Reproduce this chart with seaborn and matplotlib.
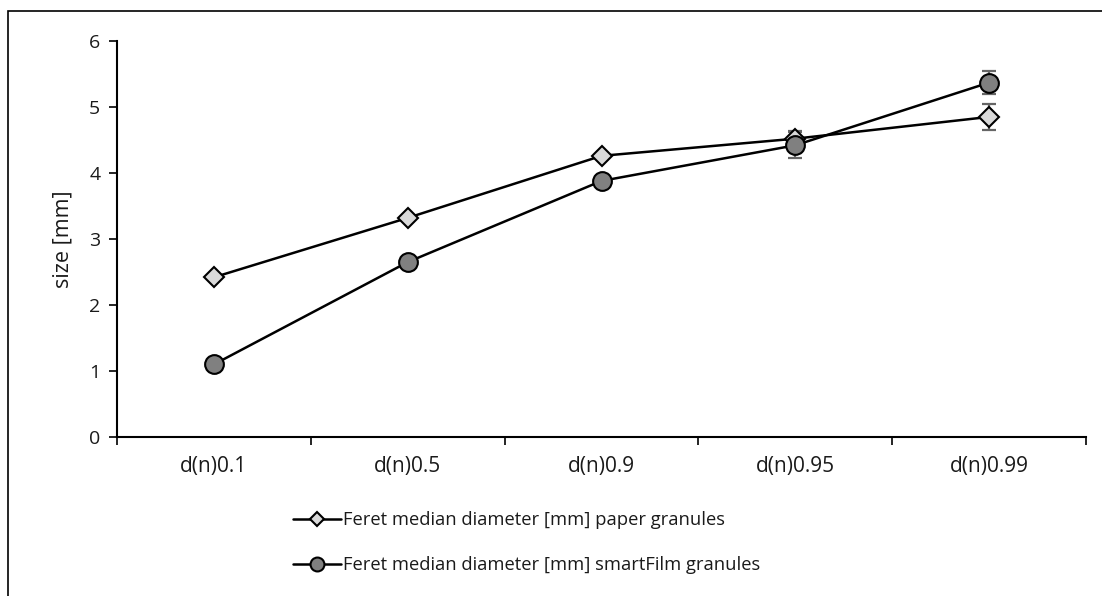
import matplotlib
matplotlib.use("Agg")
import matplotlib.pyplot as plt
from matplotlib.patches import Rectangle
from matplotlib.ticker import FixedLocator, NullFormatter
import seaborn as sns
import numpy as np
import pandas as pd

categories = ["d(n)0.1", "d(n)0.5", "d(n)0.9", "d(n)0.95", "d(n)0.99"]
paper_values = [2.42, 3.32, 4.26, 4.52, 4.85]
paper_err = [0.03, 0.04, 0.05, 0.12, 0.20]
smart_values = [1.10, 2.65, 3.88, 4.42, 5.37]
smart_err = [0.04, 0.05, 0.06, 0.20, 0.18]
paper_label = "Feret median diameter [mm] paper granules"
smart_label = "Feret median diameter [mm] smartFilm granules"
y_ticks = [0, 1, 2, 3, 4, 5, 6]

sns.set_theme(style="white")
plt.rcParams["font.family"] = ["Open Sans", "DejaVu Sans"]
TEXT = "#1a1a1a"

fig = plt.figure(figsize=(11.02, 5.96), dpi=100)
ax = fig.add_axes([0.1062, 0.2668, 0.9855 - 0.1062, 0.9312 - 0.2668])

pos = np.arange(len(categories))
df = pd.DataFrame({"pos": np.concatenate([pos, pos]),
                   "value": paper_values + smart_values,
                   "series": [paper_label] * len(pos) + [smart_label] * len(pos)})

# error bars sit behind the markers
ax.errorbar(pos, paper_values, yerr=paper_err, fmt="none", ecolor="#666666",
            elinewidth=1.6, capsize=5, capthick=1.6, zorder=1)
ax.errorbar(pos, smart_values, yerr=smart_err, fmt="none", ecolor="#666666",
            elinewidth=1.6, capsize=5, capthick=1.6, zorder=1)

sns.lineplot(data=df[df.series == paper_label], x="pos", y="value", ax=ax,
             color="black", linewidth=1.8, marker="D", markersize=10,
             markerfacecolor="#d9d9d9", markeredgecolor="black",
             markeredgewidth=1.5, label=paper_label, zorder=3)
sns.lineplot(data=df[df.series == smart_label], x="pos", y="value", ax=ax,
             color="black", linewidth=1.8, marker="o", markersize=13.5,
             markerfacecolor="#808080", markeredgecolor="black",
             markeredgewidth=1.5, label=smart_label, zorder=3)

ax.set_xlim(-0.5, len(categories) - 0.5)
ax.set_ylim(0, 6)
ax.set_yticks(y_ticks)
ax.set_xticks(pos)
ax.set_xticklabels(categories)
ax.xaxis.set_minor_locator(FixedLocator(np.arange(-0.5, len(categories), 1.0)))
ax.xaxis.set_minor_formatter(NullFormatter())
ax.tick_params(axis="x", which="major", length=0, pad=14, labelsize=15, colors=TEXT)
ax.tick_params(axis="x", which="minor", direction="out", length=6, width=1.2,
               color="black", bottom=True)
ax.tick_params(axis="y", direction="out", length=6, width=1.2, color="black",
               left=True, labelsize=14, labelcolor=TEXT, pad=6)
ax.set_xlabel("")
ax.set_ylabel("size [mm]", fontsize=15.5, color=TEXT, labelpad=11)

for side in ["top", "right"]:
    ax.spines[side].set_visible(False)
for side in ["left", "bottom"]:
    ax.spines[side].set_color("black")
    ax.spines[side].set_linewidth(1.5)

leg = ax.legend(loc="upper left", bbox_to_anchor=(293 / 1102, 1 - 511 / 596),
                bbox_transform=fig.transFigure, ncol=1, frameon=False,
                fontsize=13.2, handlelength=2.6, handletextpad=0.15,
                labelspacing=1.5, borderpad=0, borderaxespad=0)
for handle, ms in zip(leg.legend_handles, [7, 10]):
    handle.set_markersize(ms)
for txt in leg.get_texts():
    txt.set_color(TEXT)

fig.add_artist(Rectangle((8 / 1102, -0.5), 2.0, 0.5 + (1 - 11 / 596),
                         transform=fig.transFigure, fill=False,
                         edgecolor="black", linewidth=1.2))

fig.savefig("out.png", dpi=100)
